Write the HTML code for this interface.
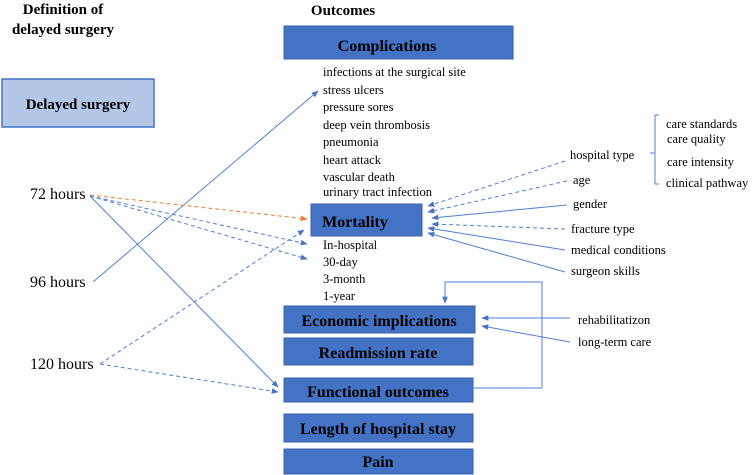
<!DOCTYPE html>
<html><head><meta charset="utf-8"><style>
html,body{margin:0;padding:0;background:#fff;font-family:'Liberation Serif',serif;}
.b{fill:#4472C4;stroke:#3A62A8;stroke-width:1}
.bt{font-weight:bold;font-size:16px;fill:#000;text-anchor:middle}
.s{font-size:12.5px;fill:#000}
.h{font-size:16px;fill:#000}
.l{stroke:#4F7FD6;stroke-width:1;fill:none}
.d{stroke-dasharray:4,3}
</style></head><body>
<svg width="753" height="475" viewBox="0 0 753 475" style="display:block" font-family="'Liberation Serif', serif">
<defs>
<marker id="a" viewBox="0 0 10 10" refX="9" refY="5" markerWidth="7" markerHeight="7" orient="auto"><path d="M0,1 L10,5 L0,9 z" fill="#4472C4"/></marker>
<marker id="o" viewBox="0 0 10 10" refX="9" refY="5" markerWidth="7" markerHeight="7" orient="auto"><path d="M0,1 L10,5 L0,9 z" fill="#ED7D31"/></marker>
</defs>
<g font-family="'Liberation Serif', serif">
<text x="63" y="14" class="bt" style="font-size:15px">Definition of</text>
<text x="63" y="34" class="bt" style="font-size:15px">delayed surgery</text>
<text x="343" y="15" class="bt" style="font-size:15px">Outcomes</text>
<rect x="2" y="79" width="152" height="48" fill="#B4C7E7" stroke="#4472C4" stroke-width="1.5"/>
<text x="78" y="109" class="bt" style="font-size:15px">Delayed surgery</text>

<rect x="284" y="26" width="229" height="33" class="b"/><text x="387" y="51" class="bt">Complications</text>
<rect x="311" y="204" width="111" height="32" class="b"/><text x="355" y="227" class="bt">Mortality</text>
<rect x="284" y="306" width="191" height="27" class="b"/><text x="379" y="326" class="bt">Economic implications</text>
<rect x="284" y="338" width="189" height="27" class="b"/><text x="378" y="358" class="bt">Readmission rate</text>
<rect x="284" y="378" width="189" height="24" class="b"/><text x="378" y="397" class="bt">Functional outcomes</text>
<rect x="284" y="414" width="189" height="28" class="b"/><text x="378" y="434" class="bt">Length of hospital stay</text>
<rect x="284" y="449" width="189" height="25" class="b"/><text x="378" y="467" class="bt">Pain</text>

<g class="s">
<text x="323" y="76">infections at the surgical site</text>
<text x="323" y="94">stress ulcers</text>
<text x="323" y="111">pressure sores</text>
<text x="323" y="129">deep vein thrombosis</text>
<text x="323" y="146">pneumonia</text>
<text x="323" y="164">heart attack</text>
<text x="323" y="181">vascular death</text>
<text x="323" y="196">urinary tract infection</text>
<text x="323" y="249">In-hospital</text>
<text x="323" y="266">30-day</text>
<text x="323" y="283">3-month</text>
<text x="323" y="300">1-year</text>
<text x="570" y="159">hospital type</text>
<text x="573" y="184">age</text>
<text x="573" y="208">gender</text>
<text x="571" y="233">fracture type</text>
<text x="571" y="254">medical conditions</text>
<text x="571" y="275">surgeon skills</text>
<text x="578" y="324">rehabilitatizon</text>
<text x="578" y="346">long-term care</text>
<text x="666" y="128">care standards</text>
<text x="667" y="143">care quality</text>
<text x="667" y="166">care  intensity</text>
<text x="666" y="187">clinical pathway</text>
</g>
<text x="30" y="199" class="h">72 hours</text>
<text x="30" y="287" class="h">96 hours</text>
<text x="30" y="369" class="h">120 hours</text>
</g>

<path d="M659,115 h-4 v69 h4 M650,153 h5" class="l" stroke="#8EAADB"/>

<line x1="93" y1="282" x2="318" y2="91" class="l" marker-end="url(#a)"/>
<line x1="90" y1="195" x2="307" y2="219" stroke="#ED7D31" stroke-width="1" stroke-dasharray="4,3" marker-end="url(#o)"/>
<line x1="90" y1="196" x2="307" y2="244" class="l d" marker-end="url(#a)"/>
<line x1="90" y1="196" x2="307" y2="259" class="l d" marker-end="url(#a)"/>
<line x1="90" y1="196" x2="278" y2="387" class="l" marker-end="url(#a)"/>
<line x1="100" y1="364" x2="304" y2="230" class="l d" marker-end="url(#a)"/>
<line x1="100" y1="364" x2="278" y2="392" class="l d" marker-end="url(#a)"/>

<line x1="565" y1="161" x2="428" y2="206" class="l d" marker-end="url(#a)"/>
<line x1="567" y1="181" x2="428" y2="212" class="l d" marker-end="url(#a)"/>
<line x1="567" y1="205" x2="432" y2="218" class="l" marker-end="url(#a)"/>
<line x1="565" y1="229" x2="432" y2="224" class="l d" marker-end="url(#a)"/>
<line x1="565" y1="250" x2="428" y2="228" class="l" marker-end="url(#a)"/>
<line x1="565" y1="272" x2="428" y2="233" class="l" marker-end="url(#a)"/>
<line x1="570" y1="318" x2="482" y2="318" class="l" marker-end="url(#a)"/>
<line x1="570" y1="342" x2="482" y2="326" class="l" marker-end="url(#a)"/>
<path d="M473,388 H542 V282 H445 V303" class="l" marker-end="url(#a)"/>
</svg>
</body></html>
